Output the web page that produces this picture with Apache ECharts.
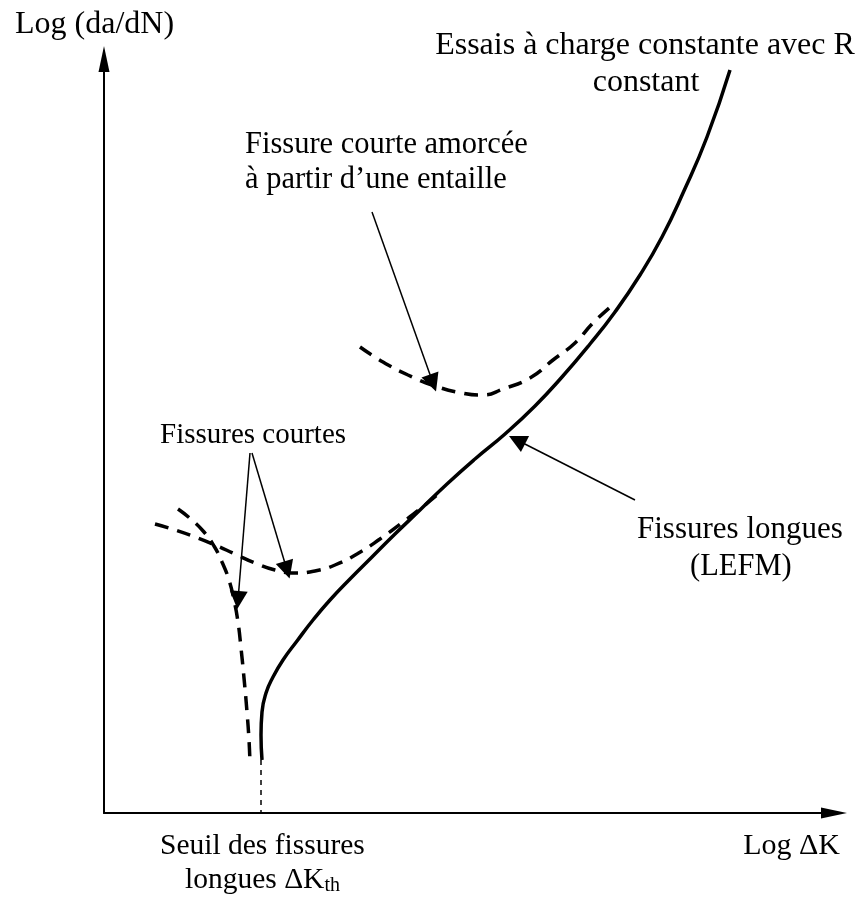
<!DOCTYPE html>
<html>
<head>
<meta charset="utf-8">
<title>Fissures courtes et fissures longues</title>
<script src="https://cdn.jsdelivr.net/npm/echarts@6/dist/echarts.min.js"></script>
<style>
  html, body { margin: 0; padding: 0; background: #fff; }
  #chart { width: 858px; height: 897px; }
</style>
</head>
<body>
<div id="chart"></div>
<script>
// schéma : unités arbitraires (x = log ΔK, y = log da/dN)
var xMax = 730;
var yMax = 754;

// fissures longues (LEFM), trait plein
var longues = [[158, 53], [157, 78], [158, 101], [162, 120], [169, 136], [179, 153], [193, 172],
  [209, 193], [226, 213], [246, 234], [268, 256], [291, 279], [316, 303], [343, 329],
  [371, 354], [401, 379], [431, 407], [458, 436], [486, 469], [511, 501], [536, 538],
  [558, 576], [579, 620], [603, 676], [626, 743]];

// fissure courte amorcée à partir d'une entaille
var entaille = [[256, 466], [279, 451], [304, 438], [331, 427], [358, 420], [379, 418],
  [399, 424], [426, 435], [449, 453], [471, 470], [489, 490], [511, 510]];

// fissures courtes, branche qui rejoint la courbe longue
var courtes1 = [[51, 289], [71, 283], [91, 276], [111, 268], [131, 259], [151, 250], [171, 243],
  [191, 240], [211, 242], [231, 248], [253, 259], [276, 274], [299, 291], [321, 308], [339, 323]];

// fissures courtes, branche qui s'arrête
var courtes2 = [[74, 304], [88, 293], [100, 281], [110, 267], [118, 251], [125, 233], [130, 213],
  [134, 191], [137, 165], [140, 135], [143, 101], [145, 73], [146, 50]];

// seuil ΔKth (pointillé fin)
var seuil = [[157, 53], [157, 0]];

// flèches d'annotation [départ, arrivée]
var fleches = [
  [[268, 601], [329, 430]],
  [[146, 360], [134, 213]],
  [[148, 360], [183, 243]],
  [[531, 313], [413, 373]]
];

var serif = '"Liberation Serif", "Times New Roman", serif';

function courbe(data, dashed) {
  return {
    type: 'line',
    data: data,
    smooth: 0.5,
    showSymbol: false,
    symbol: 'none',
    silent: true,
    lineStyle: { color: '#000', width: 3.5, type: dashed ? [14, 9] : 'solid', cap: 'butt' }
  };
}

function texte(t, x, y, size, align) {
  return {
    type: 'text', x: x, y: y, silent: true,
    style: { text: t, fill: '#000', fontSize: size, fontFamily: serif, align: align || 'left', verticalAlign: 'middle' }
  };
}

// largeur de "longues ΔK" pour placer l'indice th
var ctx = document.createElement('canvas').getContext('2d');
ctx.font = '29.5px ' + serif;
var wLongues = ctx.measureText('longues ΔK').width;

var chart = echarts.init(document.getElementById('chart'));
var option = {
  backgroundColor: '#fff',
  animation: false,
  grid: { left: 104, right: 858 - 104 - xMax, top: 813 - yMax, bottom: 84 },
  xAxis: {
    type: 'value', min: 0, max: xMax,
    axisLine: { show: true, onZero: false, symbol: ['none', 'triangle'], symbolSize: [11, 26], lineStyle: { color: '#000', width: 2 } },
    axisTick: { show: false }, axisLabel: { show: false }, splitLine: { show: false }
  },
  yAxis: {
    type: 'value', min: 0, max: yMax,
    axisLine: { show: true, onZero: false, symbol: ['none', 'triangle'], symbolSize: [11, 26], lineStyle: { color: '#000', width: 2 } },
    axisTick: { show: false }, axisLabel: { show: false }, splitLine: { show: false }
  },
  series: [
    courbe(longues, false),
    courbe(entaille, true),
    courbe(courtes1, true),
    courbe(courtes2, true),
    {
      type: 'line', data: seuil, showSymbol: false, symbol: 'none', silent: true,
      lineStyle: { color: '#000', width: 1.5, type: [5, 5] }
    },
    {
      type: 'lines',
      coordinateSystem: 'cartesian2d',
      silent: true,
      symbol: ['none', 'triangle'],
      symbolSize: [10, 18],
      lineStyle: { color: '#000', width: 1.5, opacity: 1, curveness: 0 },
      data: fleches.map(function (f) { return { coords: f }; })
    }
  ],
  graphic: [
    texte('Log (da/dN)', 15, 25, 32),
    texte('Essais à charge constante avec R', 645, 46, 32, 'center'),
    texte('constant', 646, 83, 32, 'center'),
    texte('Fissure courte amorcée', 245, 145, 30.5),
    texte('à partir d’une entaille', 245, 180, 30.5),
    texte('Fissures courtes', 160, 435, 29),
    texte('Fissures longues', 637, 530, 31),
    texte('(LEFM)', 690, 567, 30.5),
    texte('Seuil des fissures', 160, 846, 29.5),
    texte('longues ΔK', 185, 880, 29.5),
    texte('th', 185 + wLongues, 886, 20),
    texte('Log ΔK', 840, 846, 30, 'right')
  ]
};
chart.setOption(option);
</script>
</body>
</html>
